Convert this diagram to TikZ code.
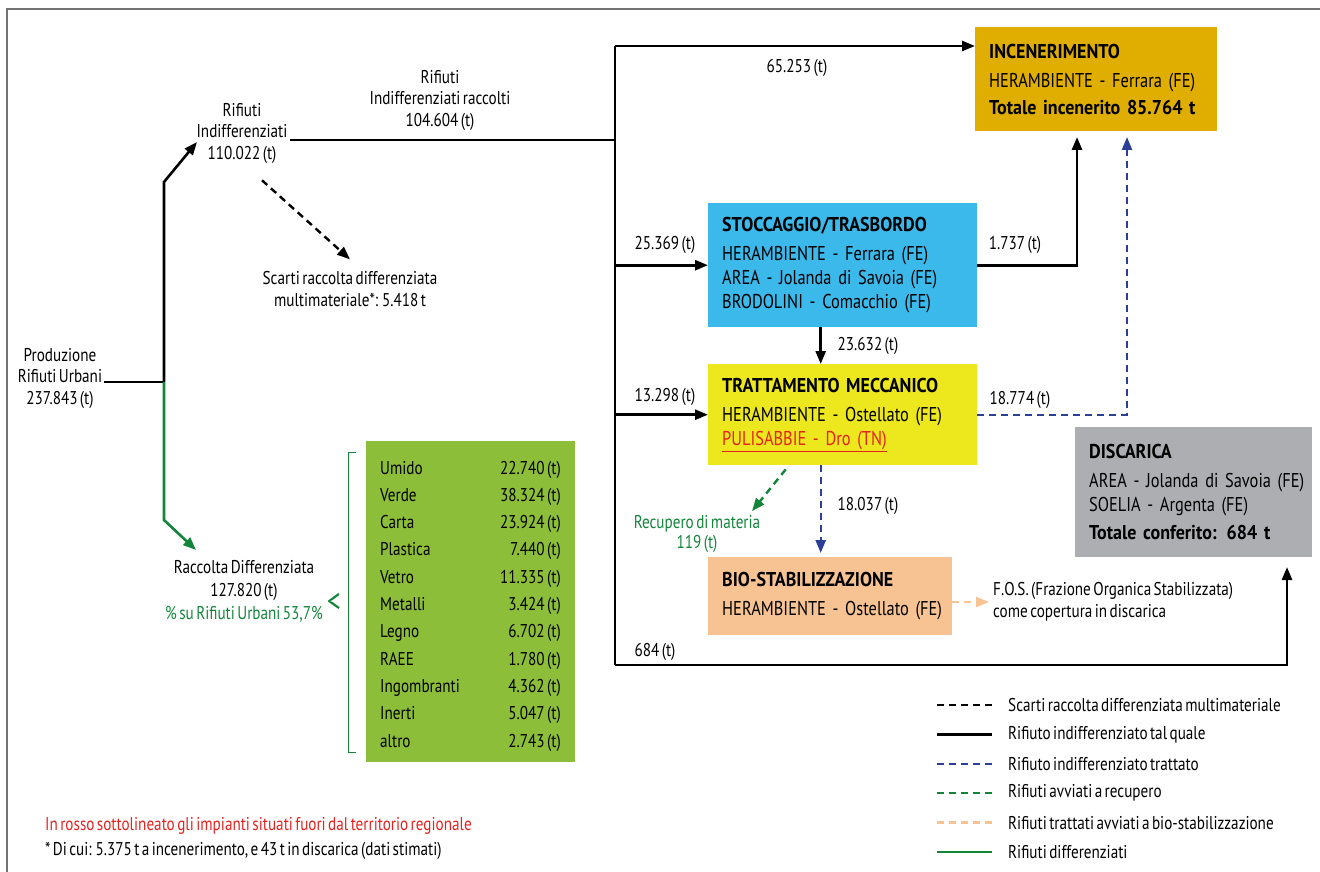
\documentclass[tikz,border=0pt]{standalone}
\usepackage{fontspec}
\setmainfont{PT Sans}[FakeStretch=0.82,WordSpace=0.6]
\newfontfamily\titlefamily{PT Sans}[FakeStretch=0.9,WordSpace=0.8]
\usetikzlibrary{arrows.meta}
\definecolor{incencol}{HTML}{DFAE00}
\definecolor{stoccol}{HTML}{3CB9EB}
\definecolor{trattcol}{HTML}{EDE71D}
\definecolor{biocol}{HTML}{F8C393}
\definecolor{disccol}{HTML}{ADAEB1}
\definecolor{rdcol}{HTML}{8DBE3A}
\definecolor{diffcol}{HTML}{13853B}
\definecolor{bluecol}{HTML}{2C3F98}
\definecolor{redcol}{HTML}{E42320}
\newcommand\boxtitle[1]{{\titlefamily\fontsize{20}{22}\selectfont\bfseries #1}}
\tikzset{
  flow/.style={line width=2.6pt,black},
  scart/.style={line width=2.4pt,black,dash pattern=on 7pt off 5pt},
  treat/.style={line width=2.4pt,bluecol,dash pattern=on 7pt off 5pt},
  recov/.style={line width=2.4pt,diffcol,dash pattern=on 7pt off 5pt},
  biof/.style={line width=2.4pt,biocol,dash pattern=on 7pt off 5pt},
  diff/.style={line width=2.6pt,diffcol},
  impianto/.style={anchor=north west,inner xsep=14pt,inner ysep=0pt,align=left,
    font=\fontsize{20}{24}\selectfont},
  lab/.style={inner sep=2pt,align=center}
}
\begin{document}
\begin{tikzpicture}[x=1pt,y=-1pt,font=\fontsize{18.5}{21.5}\selectfont,
  >={Triangle[length=13pt,width=10pt]}]
\useasboundingbox (0,0) rectangle (1320,872);
% cornice
\draw[black!55,line width=1.5pt] (7,872) -- (7,9) -- (1320,9);

% impianti
\node[impianto,fill=incencol,minimum height=104pt,text width=214pt] (incen) at (975,27)
  {\boxtitle{INCENERIMENTO}\\[5pt] HERAMBIENTE - Ferrara (FE)\\[3pt] \boxtitle{Totale incenerito 85.764 t}};
\node[impianto,fill=stoccol,minimum height=124pt,text width=241pt] (stocc) at (708,203)
  {\boxtitle{STOCCAGGIO/TRASBORDO}\\[5pt] HERAMBIENTE - Ferrara (FE)\\ AREA - Jolanda di Savoia (FE)\\ BRODOLINI - Comacchio (FE)};
\node[impianto,fill=trattcol,minimum height=101pt,text width=241pt] (tratt) at (708,364)
  {\boxtitle{TRATTAMENTO MECCANICO}\\[5pt] HERAMBIENTE - Ostellato (FE)\\ {\color{redcol}\underline{PULISABBIE - Dro (TN)}}};
\node[impianto,fill=biocol,minimum height=78pt,text width=216pt] (bio) at (708,557)
  {\boxtitle{BIO-STABILIZZAZIONE}\\[5pt] \mbox{HERAMBIENTE - Ostellato (FE)}};
\node[impianto,fill=disccol,minimum height=130pt,text width=209pt] (disc) at (1075,427)
  {\boxtitle{DISCARICA}\\[5pt] \mbox{AREA - Jolanda di Savoia (FE)}\\ SOELIA - Argenta (FE)\\[4pt] \boxtitle{Totale conferito: 684 t}};

% testi
\node[lab] (prod) at (60,378) {Produzione\\Rifiuti Urbani\\237.843 (t)};
\node[lab] (indif) at (242,133) {Rifiuti\\Indifferenziati\\110.022 (t)};
\node[lab] (racc) at (440,100) {Rifiuti\\Indifferenziati raccolti\\104.604 (t)};
\node[lab] (scarti) at (350,289) {Scarti raccolta differenziata\\multimateriale*: 5.418 t};
\node[lab,font=\fontsize{18.5}{23}\selectfont] (rdiff) at (244,591)
  {Raccolta Differenziata\\127.820 (t)\\{\color{diffcol}\% su Rifiuti Urbani 53,7\%}};
\node[lab] (l65) at (797,68) {65.253 (t)};
\node[lab] (l25) at (665,245) {25.369 (t)};
\node[lab] (l17) at (1015,245) {1.737 (t)};
\node[lab] (l23) at (868,346) {23.632 (t)};
\node[lab] (l13) at (665,397) {13.298 (t)};
\node[lab] (l187) at (1020,400) {18.774 (t)};
\node[lab,text=diffcol,font=\fontsize{18.5}{20}\selectfont] (recup) at (697,534) {Recupero di materia\\119 (t)};
\node[lab] (l180) at (868,506) {18.037 (t)};
\node[lab] (l684) at (655,652) {684 (t)};
\node[lab,anchor=west,align=left] (fos) at (991,602) {F.O.S. (Frazione Organica Stabilizzata)\\come copertura in discarica};

% punti di snodo
\coordinate (split) at (164,382);
\coordinate (kinkU) at (164,182);
\coordinate (tipU) at (197,142);
\coordinate (kinkD) at (164,520);
\coordinate (tipD) at (196,550);
\coordinate (tTop) at (615,46);
\coordinate (tMid) at (615,140);
\coordinate (tBot) at (615,665);
\coordinate (incA) at (1077,137);
\coordinate (incB) at (1127,137);
\coordinate (discA) at (1287,567);

% flussi
\draw[flow] (prod.east |- split) -- (split);
\draw[flow,->] (split) -- (kinkU) -- (tipU);
\draw[diff,->] (split) -- (kinkD) -- (tipD);
\draw[scart,->] ([xshift=20pt,yshift=-15pt]indif.south) -- ([yshift=10pt]scarti.north);
\draw[flow] (indif.east |- tMid) -- (tMid);
\draw[flow] (tTop) -- (tBot);
\draw[flow,->] (tTop) -- (incen.west |- tTop);
\draw[flow,->] (tTop |- stocc.west) -- (stocc.west);
\draw[flow,->] (tTop |- tratt.west) -- (tratt.west);
\draw[flow,->] (stocc.east) -| (incA);
\draw[treat,->] (tratt.east) -| (incB);
\draw[flow,->] ([xshift=-22pt]stocc.south) -- ([xshift=-22pt]tratt.north);
\draw[treat,->,shorten >=4pt] ([xshift=-22pt]tratt.south) -- ([xshift=-22pt]tratt.south |- bio.north);
\draw[recov,->] ([xshift=-57pt,yshift=-4pt]tratt.south) -- ([xshift=55pt,yshift=2pt]recup.north);
\draw[biof,->] (bio.east |- fos.west) -- ([xshift=-2pt]fos.west);
\draw[flow,->] (tBot) -| (discA);

% raccolta differenziata
\node[text=diffcol,font=\fontsize{34}{34}\selectfont,inner sep=0pt] (minore) at (334,603) {<};
\draw[diffcol,line width=1pt] (356,452) -- (348,452) -- (348,752) -- (356,752);
\node[anchor=north west,fill=rdcol,minimum width=209pt,minimum height=321pt] (rd) at (366,441) {};
\foreach \nm/\val [count=\i] in {Umido/22.740,Verde/38.324,Carta/23.924,Plastica/7.440,Vetro/11.335,
  Metalli/3.424,Legno/6.702,RAEE/1.780,Ingombranti/4.362,Inerti/5.047,altro/2.743}
{
  \node[anchor=base west,inner sep=0pt] (voce\i) at (380,{474+27.3*(\i-1)}) {\nm};
  \node[anchor=base east,inner sep=0pt] (ton\i) at (561,{474+27.3*(\i-1)}) {\val\ (t)};
}

% legenda
\foreach \st/\txt [count=\i] in {scart/Scarti raccolta differenziata multimateriale,
  flow/Rifiuto indifferenziato tal quale,treat/Rifiuto indifferenziato trattato,
  recov/Rifiuti avviati a recupero,biof/Rifiuti trattati avviati a bio-stabilizzazione,
  diff/Rifiuti differenziati}
{
  \draw[\st] (937,{705+29.4*(\i-1)}) -- ++(55,0);
  \node[anchor=west,inner sep=0pt] (leg\i) at (1008,{705+29.4*(\i-1)}) {\txt};
}

% note
\node[anchor=west,inner sep=0pt,text=redcol] (nota1) at (45,826) {In rosso sottolineato gli impianti situati fuori dal territorio regionale};
\node[anchor=west,inner sep=0pt] (nota2) at (45,851) {* Di cui: 5.375 t a incenerimento, e 43 t in discarica (dati stimati)};
\end{tikzpicture}
\end{document}
